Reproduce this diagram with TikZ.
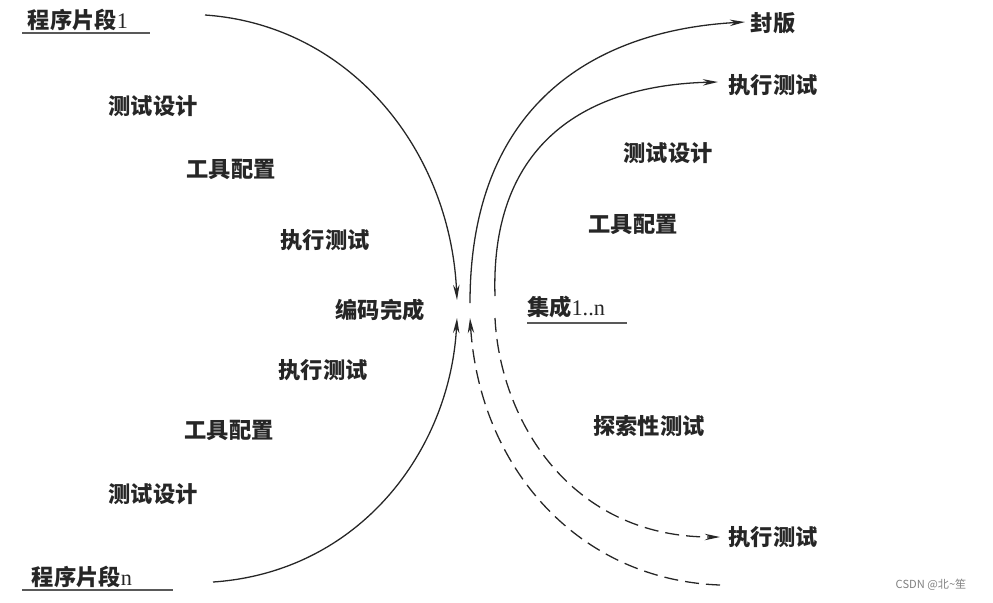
\documentclass[tikz,border=0pt]{standalone}
\usepackage{fontspec}
\newfontfamily\cjk{Noto Sans CJK SC}
\newfontfamily\lat{Liberation Serif}
\usetikzlibrary{arrows.meta}
\begin{document}
\begin{tikzpicture}[x=0.03cm,y=-0.03cm,
  lbl/.style={font=\cjk\bfseries\fontsize{19}{21}\selectfont, text=black!85, inner sep=0pt},
  wm/.style={font=\cjk\fontsize{9.5}{11}\selectfont, text=black!50, inner sep=0pt},
  flow/.style={line width=1.1pt, draw=black!85, -{Stealth[length=13pt,width=5.5pt]}},
  plain/.style={line width=1.1pt, draw=black!85},
  dflow/.style={flow, dash pattern=on 12pt off 6pt},
  dplain/.style={plain, dash pattern=on 12pt off 6pt},
  uline/.style={line width=1.4pt, draw=black!65}]
\useasboundingbox (0,0) rectangle (993,602);

% labels left
\node[lbl] (p1) at (78,20) {程序片段{\lat\mdseries 1}};
\node[lbl] (pn) at (82,577) {程序片段{\lat\mdseries n}};
\node[lbl] (l1) at (153,106) {测试设计};
\node[lbl] (l2) at (231,169) {工具配置};
\node[lbl] (l3) at (325,240) {执行测试};
\node[lbl] (c0) at (380,310) {编码完成};
\node[lbl] (l4) at (323,370) {执行测试};
\node[lbl] (l5) at (229,430) {工具配置};
\node[lbl] (l6) at (153,494) {测试设计};

% labels right
\node[lbl] (fb) at (773,23) {封版};
\node[lbl] (r1) at (773,85) {执行测试};
\node[lbl] (r2) at (668,153) {测试设计};
\node[lbl] (r3) at (633,224) {工具配置};
\node[lbl] (jc) at (566,307) {集成{\lat\mdseries 1..n}};
\node[lbl] (r4) at (649,426) {探索性测试};
\node[lbl] (r5) at (773,537) {执行测试};

\node[wm] (wmk) at (931,585) {CSDN @北\textasciitilde 笙};

% underlines
\coordinate (u1a) at (22,33); \coordinate (u1b) at (150,33);
\coordinate (u2a) at (22,590); \coordinate (u2b) at (173,590);
\coordinate (u3a) at (527,323); \coordinate (u3b) at (627,323);
\draw[uline] (u1a) -- (u1b);
\draw[uline] (u2a) -- (u2b);
\draw[uline] (u3a) -- (u3b);

% curve end points
\coordinate (a1s) at (205,15);  \coordinate (a1e) at (457,300);
\coordinate (a2s) at (213,582); \coordinate (a2e) at (457,318);
\coordinate (b1s) at (470,303); \coordinate (b1e) at (745,22);
\coordinate (b2s) at (495,296); \coordinate (b2e) at (718,82);
\coordinate (d1s) at (495,318); \coordinate (d1e) at (720,537);
\coordinate (d2s) at (720,585); \coordinate (d2e) at (470,318);

\draw[flow] (a1s) .. controls (350,25) and (450,150) .. (a1e);
\draw[flow] (a2s) .. controls (360,572) and (450,450) .. (a2e);
\draw[flow] (b1s) .. controls (470,100) and (600,30) .. (b1e);
\draw[flow] (b2s) .. controls (490,140) and (590,85) .. (b2e);
\draw[dflow] (d1s) .. controls (500,420) and (570,537) .. (d1e);
\draw[dflow] (d2s) .. controls (580,580) and (480,470) .. (d2e);
\end{tikzpicture}
\end{document}
